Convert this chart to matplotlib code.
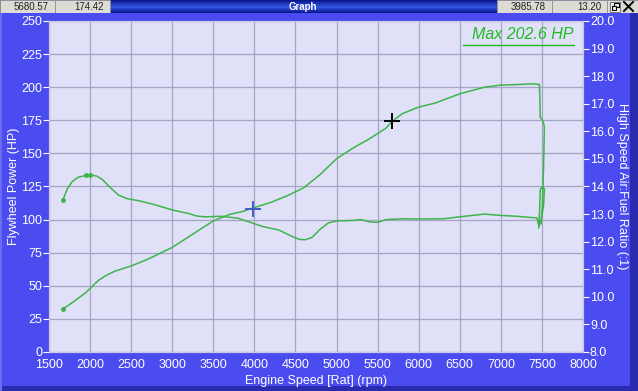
import matplotlib
matplotlib.use("Agg")
import matplotlib.pyplot as plt
from matplotlib.patches import Rectangle
from matplotlib.colors import LinearSegmentedColormap
import numpy as np

# ---- data ----
rpm_power = [1670, 1800, 1950, 2000, 2100, 2200, 2300, 2500, 2700, 3000, 3200, 3400,
             3500, 3700, 3850, 3985.78, 4200, 4400, 4600, 4800, 5000, 5200, 5400,
             5600, 5680.57, 5800, 6000, 6200, 6500, 6800, 7000, 7200, 7400, 7470,
             7475, 7480, 7510, 7530, 7520, 7505, 7490]
power_hp = [32.5, 38, 45, 48, 54, 58, 61, 65, 70, 79, 87, 95,
            99, 104, 106, 108.8, 113, 118, 124, 134, 146, 154, 161,
            169, 174.42, 180, 185, 188, 195, 200, 201.6, 202, 202.6, 202,
            190, 177, 175, 170, 140, 110, 97]

rpm_afr = [1670, 1720, 1780, 1850, 1950, 2000, 2080, 2150, 2250, 2350, 2450, 2600,
           2800, 3000, 3200, 3300, 3400, 3600, 3800, 3950, 4100, 4300, 4450, 4550,
           4620, 4700, 4800, 4900, 5000, 5200, 5300, 5400, 5500, 5600, 5800, 6000,
           6300, 6500, 6800, 7000, 7200, 7350, 7440, 7460, 7470, 7480, 7510, 7530,
           7520, 7490, 7460]
afr = [13.51, 13.9, 14.17, 14.33, 14.40, 14.42, 14.38, 14.25, 13.95, 13.68, 13.56, 13.48,
       13.33, 13.15, 13.02, 12.93, 12.9, 12.92, 12.85, 12.7, 12.55, 12.42, 12.2, 12.08,
       12.07, 12.15, 12.45, 12.68, 12.75, 12.77, 12.8, 12.72, 12.7, 12.8, 12.83, 12.82,
       12.83, 12.9, 13.0, 12.95, 12.92, 12.88, 12.86, 12.6, 13.0, 13.9, 14.0, 13.9,
       13.3, 12.8, 12.5]

cursor_rpm = [5680.57, 3985.78]
cursor_val = [174.42, 13.20]
max_label = "Max 202.6 HP"

x_ticks = list(range(1500, 8001, 500))
hp_ticks = list(range(0, 251, 25))
afr_ticks = [8.0 + i for i in range(13)]

header_values = ["5680.57", "174.42", "3985.78", "13.20"]

# ---- style ----
W, H = 638, 391
BG = "#4A4CF0"
PLOT_BG = "#E0E0F8"
GRID = "#A4A4C4"
GREEN = "#3DB54A"
FONT = "Liberation Sans"

fig = plt.figure(figsize=(W / 100, H / 100), dpi=100)
fig.patch.set_facecolor(BG)

# window frame
frame = fig.add_axes([0, 0, 1, 1], zorder=-5)
frame.set_xlim(0, W)
frame.set_ylim(H, 0)
frame.axis("off")
frame.add_patch(Rectangle((0, 0), W, H, facecolor=BG, edgecolor="none"))
frame.add_patch(Rectangle((630, 13), 8, H - 13, facecolor="#2A2CB0", edgecolor="none"))
frame.add_patch(Rectangle((0, 386), W, 5, facecolor="#2A2CB0", edgecolor="none"))
frame.add_patch(Rectangle((0, 13), 2, H - 13, facecolor="#6A6CF8", edgecolor="none"))

L, R, T, B = 49, 583, 21, 352
ax = fig.add_axes([L / W, 1 - B / H, (R - L) / W, (B - T) / H])
ax.set_facecolor(PLOT_BG)
ax.set_xlim(1500, 8000)
ax.set_ylim(0, 250)
ax.set_xticks(x_ticks)
ax.set_yticks(hp_ticks)
ax.grid(True, color=GRID, linewidth=0.9)
ax.set_axisbelow(True)
for s in ax.spines.values():
    s.set_color("#C8C8E8")
    s.set_linewidth(0.8)
ax.tick_params(axis="x", length=0, colors="white", labelsize=9, pad=5)
ax.tick_params(axis="y", length=4, colors="white", labelsize=9, pad=1, width=0.8)
for lab in ax.get_xticklabels() + ax.get_yticklabels():
    lab.set_fontfamily(FONT)

ax.plot(rpm_power, power_hp, color=GREEN, lw=1.1, zorder=3)
ax.plot(rpm_power[:1], power_hp[:1], "o", color=GREEN, ms=2.5, zorder=3)

ax2 = ax.twinx()
ax2.set_ylim(8, 20)
ax2.set_yticks(afr_ticks)
ax2.set_yticklabels([f"{v:.1f}" for v in afr_ticks])
ax2.tick_params(axis="y", length=4, colors="white", labelsize=9, pad=1, width=0.8)
for lab in ax2.get_yticklabels():
    lab.set_fontfamily(FONT)
for s in ax2.spines.values():
    s.set_color("#C8C8E8")
    s.set_linewidth(0.8)
ax2.plot(rpm_afr, afr, color=GREEN, lw=1.1, zorder=3)
ax2.plot(rpm_afr[:1] + rpm_afr[4:6], afr[:1] + afr[4:6], "o", color=GREEN, ms=2.5, zorder=3)

# cursors
ax.plot(cursor_rpm[0], cursor_val[0], marker="+", color="black", ms=11, mew=1.4, zorder=5)
ax2.plot(cursor_rpm[1], cursor_val[1], marker="+", color="#4060C8", ms=11, mew=1.4, zorder=5)

# Max label
ax.text(0.982, 0.958, max_label, transform=ax.transAxes, ha="right", va="center",
        color="#22BB22", fontsize=11.5, style="italic", family=FONT)
ax.plot([0.775, 0.984], [0.928, 0.928], transform=ax.transAxes, color="#22BB22", lw=1.0)

# axis labels
fig.text((L + R) / 2 / W, 1 - 381 / H, "Engine Speed [Rat] (rpm)", ha="center", va="center",
         color="white", fontsize=9, family=FONT)
fig.text(14 / W, 1 - ((T + B) / 2) / H, "Flywheel Power (HP)", ha="center", va="center",
         color="white", fontsize=9, family=FONT, rotation=90)
fig.text(622 / W, 1 - ((T + B) / 2) / H, "High Speed Air:Fuel Ratio (:1)", ha="center", va="center",
         color="white", fontsize=9, family=FONT, rotation=-90)

# header bar
hb = fig.add_axes([0, 1 - 13 / H, 1, 13 / H])
hb.axis("off")
grad = np.concatenate([np.linspace(0, 1, 7), np.linspace(1, 0, 6)])[:, None]
cmap = LinearSegmentedColormap.from_list("bar", ["#0A1890", "#3050E0"])
hb.imshow(np.repeat(grad, 10, axis=1), extent=(110, 497, 13, 0), aspect="auto", cmap=cmap)
boxes = [(0, 55), (55, 110), (497, 552), (552, 607)]
for (x0, x1), txt in zip(boxes, header_values):
    hb.add_patch(Rectangle((x0, 0), x1 - x0, 13, facecolor="#DCDCD4", edgecolor="#909090", lw=0.6))
    hb.text(x1 - 6, 6.5, txt, ha="right", va="center", fontsize=7, color="#202020", family=FONT)
hb.text(303, 6.5, "Graph", ha="center", va="center", fontsize=7, color="white", family=FONT,
        weight="bold")
hb.add_patch(Rectangle((607, 0), 31, 13, facecolor="#DCDCD4", edgecolor="#909090", lw=0.6))
# restore icon drawn as shapes
hb.add_patch(Rectangle((610, 1.5), 10, 10, facecolor="#F0F0F0", edgecolor="#606060", lw=0.6))
hb.add_patch(Rectangle((614, 3), 4.5, 4, facecolor="none", edgecolor="black", lw=0.8))
hb.add_patch(Rectangle((611.5, 5.5), 4.5, 4, facecolor="#F0F0F0", edgecolor="black", lw=0.8))
hb.plot([624, 633], [2, 11], color="black", lw=1.4)
hb.plot([624, 633], [11, 2], color="black", lw=1.4)
hb.set_xlim(0, W)
hb.set_ylim(13, 0)

fig.savefig("out.png", dpi=100, facecolor=fig.get_facecolor())
